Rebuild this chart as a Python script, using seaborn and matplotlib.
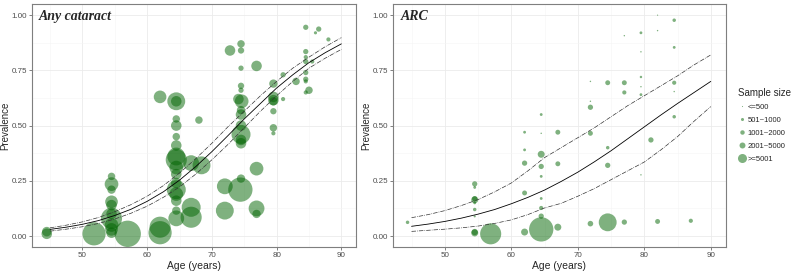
import matplotlib
matplotlib.use("Agg")
import matplotlib.pyplot as plt
from matplotlib.lines import Line2D
import seaborn as sns
import pandas as pd

# Any cataract: study points (age, prevalence, sample size)
any_age = [44.5, 44.5, 51.8, 57.0,
           54.5, 54.5, 54.5, 54.5, 54.5, 54.5, 54.5, 54.5, 54.5, 54.5,
           62.0, 62.0, 62.0,
           64.5, 64.5, 64.5, 64.5, 64.5, 64.5, 64.5, 64.5, 64.5, 64.5, 64.5, 64.5, 64.5, 64.5, 64.5, 64.5,
           66.8, 66.8, 66.8, 68.0, 68.4,
           72.0, 72.0, 72.8,
           74.5, 74.5, 74.5, 74.5, 74.5, 74.1, 74.6, 74.5, 74.5, 74.5, 74.5, 74.5, 74.5, 74.5, 74.4,
           76.9, 76.9, 76.9, 76.9,
           79.5, 79.5, 79.5, 79.5, 79.5, 79.5, 79.5,
           81.0, 81.0, 83.0,
           84.5, 84.5, 84.5, 84.5, 84.5, 84.5, 84.5, 84.5, 85.0, 86.0, 86.5, 85.5, 88.0]
any_prev = [0.01, 0.02, 0.01, 0.01,
            0.27, 0.235, 0.21, 0.155, 0.14, 0.10, 0.08, 0.05, 0.03, 0.015,
            0.04, 0.015, 0.63,
            0.61, 0.61, 0.53, 0.50, 0.45, 0.41, 0.36, 0.345, 0.31, 0.28, 0.24, 0.21, 0.19, 0.16, 0.115, 0.08,
            0.13, 0.085, 0.33, 0.525, 0.32,
            0.115, 0.225, 0.84,
            0.87, 0.84, 0.76, 0.68, 0.66, 0.62, 0.61, 0.57, 0.55, 0.50, 0.46, 0.435, 0.42, 0.26, 0.21,
            0.77, 0.305, 0.125, 0.10,
            0.69, 0.63, 0.615, 0.61, 0.565, 0.49, 0.465,
            0.73, 0.62, 0.70,
            0.945, 0.835, 0.81, 0.79, 0.74, 0.71, 0.70, 0.65, 0.66, 0.92, 0.937, 0.79, 0.89]
any_n = [3200, 2600, 15500, 20000,
         1600, 5400, 2000, 4600, 3200, 3200, 12800, 5400, 4600, 3200,
         12800, 15500, 4600,
         9200, 3200, 1600, 3200, 1600, 3200, 9200, 12800, 5400, 3200, 3200, 10400, 5400, 3200, 2000, 7200,
         10400, 12800, 7200, 1600, 9200,
         9200, 7200, 3200,
         1600, 1150, 800, 1150, 800, 3200, 5400, 2000, 3200, 3200, 10400, 3200, 3200, 2000, 17000,
         3200, 5400, 7200, 2000,
         2000, 3200, 3200, 2000, 1150, 1600, 500,
         800, 500, 1600,
         800, 800, 500, 800, 800, 800, 500, 500, 1600, 290, 800, 500, 500]

# ARC: study points
arc_age = [44.4,
           54.5, 54.5, 54.5, 54.5, 54.5, 54.5, 54.5, 54.5, 54.5,
           56.9,
           62.0, 62.0, 62.0, 62.0, 62.0,
           64.5, 64.5, 64.5, 64.5, 64.5, 64.5, 64.5, 64.5, 64.5,
           67.0, 67.0, 67.0,
           71.9, 71.9, 71.9, 71.9, 71.9,
           74.5, 74.5, 74.5, 74.5,
           77.0, 77.0, 77.0, 77.0,
           79.5, 79.5, 79.5, 79.5, 79.5, 79.5,
           81.0, 82.0, 82.0, 82.0,
           84.5, 84.5, 84.5, 84.5, 84.5, 87.0]
arc_prev = [0.062,
            0.236, 0.22, 0.169, 0.164, 0.15, 0.12, 0.089, 0.018, 0.014,
            0.01,
            0.47, 0.39, 0.33, 0.195, 0.018,
            0.55, 0.465, 0.37, 0.315, 0.27, 0.17, 0.127, 0.09, 0.03,
            0.47, 0.327, 0.04,
            0.70, 0.61, 0.583, 0.465, 0.056,
            0.694, 0.40, 0.32, 0.062,
            0.907, 0.694, 0.65, 0.063,
            0.92, 0.834, 0.72, 0.676, 0.64, 0.277,
            0.435, 1.00, 0.93, 0.066,
            0.977, 0.854, 0.694, 0.654, 0.54, 0.069]
arc_n = [350,
         800, 230, 800, 1400, 230, 350, 130, 1150, 1400,
         12800,
         230, 230, 800, 700, 1400,
         230, 60, 1400, 800, 230, 230, 500, 800, 17000,
         700, 700, 1400,
         60, 60, 800, 700, 900,
         700, 350, 800, 9200,
         60, 700, 500, 800,
         230, 60, 170, 60, 230, 60,
         800, 40, 60, 700,
         350, 230, 500, 60, 350, 500]

# fitted curves with 95% limits
fit_age = [45, 47.5, 50, 52.5, 55, 57.5, 60, 62.5, 65, 67.5, 70, 72.5, 75, 77.5, 80, 82.5, 85, 87.5, 90]
any_fit = [0.030, 0.040, 0.053, 0.070, 0.093, 0.121, 0.157, 0.200, 0.253, 0.314, 0.382, 0.455,
           0.530, 0.600, 0.670, 0.730, 0.785, 0.830, 0.870]
any_upper = [0.037, 0.049, 0.064, 0.084, 0.110, 0.142, 0.180, 0.228, 0.285, 0.350, 0.420, 0.495,
             0.565, 0.635, 0.700, 0.760, 0.810, 0.857, 0.898]
any_lower = [0.022, 0.031, 0.042, 0.057, 0.077, 0.103, 0.135, 0.175, 0.222, 0.280, 0.345, 0.415,
             0.490, 0.565, 0.635, 0.700, 0.760, 0.805, 0.845]
arc_fit = [0.044, 0.054, 0.066, 0.081, 0.099, 0.120, 0.146, 0.175, 0.208, 0.247, 0.289, 0.336,
           0.386, 0.440, 0.494, 0.548, 0.600, 0.650, 0.700]
arc_upper = [0.083, 0.097, 0.115, 0.138, 0.165, 0.200, 0.240, 0.295, 0.355, 0.400, 0.445, 0.490,
             0.540, 0.590, 0.635, 0.680, 0.725, 0.775, 0.820]
arc_lower = [0.021, 0.026, 0.031, 0.037, 0.045, 0.057, 0.073, 0.097, 0.127, 0.148, 0.180, 0.215,
             0.255, 0.295, 0.335, 0.390, 0.450, 0.520, 0.586]

size_labels = ["<=500", "501~1000", "1001~2000", "2001~5000", ">=5001"]

sns.set_style("white")
plt.rcParams["font.family"] = ["Liberation Sans", "DejaVu Sans"]

fig = plt.figure(figsize=(7.97, 2.73), dpi=100)
ax1 = fig.add_axes([0.040, 0.095, 0.407, 0.890])
ax2 = fig.add_axes([0.493, 0.095, 0.418, 0.890])

green = "#006400"
panels = [
    (ax1, any_age, any_prev, any_n, any_fit, any_upper, any_lower, "Any cataract", -0.068),
    (ax2, arc_age, arc_prev, arc_n, arc_fit, arc_upper, arc_lower, "ARC", -0.066),
]

for ax, age, prev, n, fit, up, lo, title, ylab_x in panels:
    pts = pd.DataFrame({"age": age, "prev": prev, "n": n})
    sns.scatterplot(data=pts, x="age", y="prev", size="n", sizes=(0, 360),
                    size_norm=(0, 20000), color=green, alpha=0.5,
                    linewidth=0, legend=False, ax=ax, zorder=3)
    curves = pd.DataFrame({"age": fit_age, "fit": fit, "up": up, "lo": lo})
    sns.lineplot(data=curves, x="age", y="fit", color="black", lw=0.6, ax=ax, zorder=4)
    sns.lineplot(data=curves, x="age", y="up", color="#333333", lw=0.5,
                 linestyle="-.", ax=ax, zorder=4)
    sns.lineplot(data=curves, x="age", y="lo", color="#333333", lw=0.5,
                 linestyle="-.", ax=ax, zorder=4)

    ax.set_xlim(42.2, 92.3)
    ax.set_ylim(-0.05, 1.05)
    ax.set_xticks([50, 60, 70, 80, 90])
    ax.set_xticks([45, 55, 65, 75, 85], minor=True)
    ax.set_yticks([0, 0.25, 0.5, 0.75, 1.0])
    ax.set_yticks([0.125, 0.375, 0.625, 0.875], minor=True)
    ax.set_yticklabels(["0.00", "0.25", "0.50", "0.75", "1.00"])
    ax.grid(True, which="major", color="#EBEBEB", lw=0.6, zorder=0)
    ax.grid(True, which="minor", color="#F5F5F5", lw=0.4, zorder=0)
    ax.set_axisbelow(True)
    ax.tick_params(axis="both", which="major", labelsize=5.8, colors="#4D4D4D",
                   length=2, width=0.5, pad=1.5, bottom=True, left=True)
    ax.tick_params(axis="both", which="minor", length=0)
    for sp in ax.spines.values():
        sp.set_color("#7F7F7F")
        sp.set_linewidth(0.8)
    ax.set_xlabel("Age (years)", fontsize=7.5, labelpad=1.5)
    ax.set_ylabel("Prevalence", fontsize=7)
    ax.yaxis.set_label_coords(ylab_x, 0.5)
    ax.text(0.022, 0.975, title, transform=ax.transAxes, ha="left", va="top",
            fontsize=10, fontweight="bold", fontstyle="italic",
            family=["Liberation Serif", "DejaVu Serif"], zorder=5)

# legend for sample size classes
leg_ms = [0.8, 2.2, 3.2, 4.3, 6.5]
handles = [Line2D([], [], marker="o", linestyle="", markersize=m, color=green,
                  alpha=0.5, markeredgewidth=0) for m in leg_ms]
fig.legend(handles, size_labels, title="Sample size", loc="upper left",
           bbox_to_anchor=(0.922, 0.69), frameon=False, fontsize=5.5,
           title_fontsize=7, handletextpad=0.3, labelspacing=0.75,
           handlelength=1.0, borderaxespad=0, alignment="left")

fig.savefig("out.png", dpi=100)
plt.close(fig)
